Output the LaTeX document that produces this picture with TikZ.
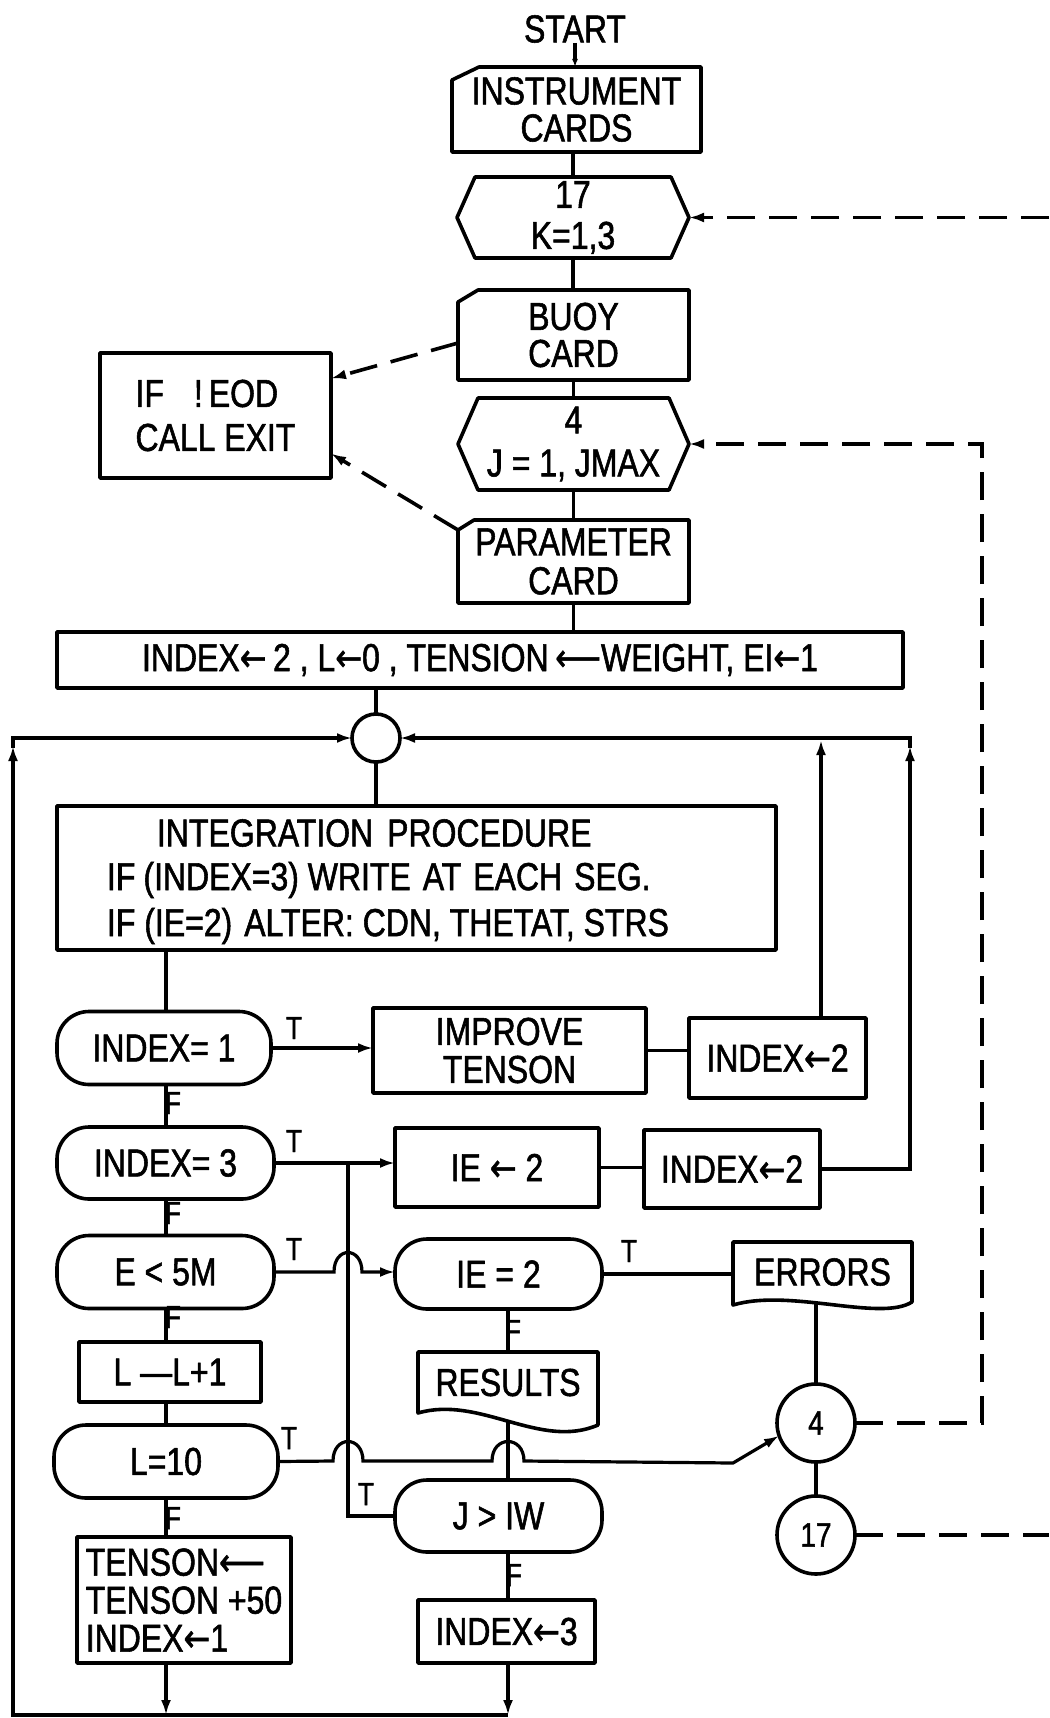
\documentclass[tikz,border=0pt]{standalone}
\usepackage{fontspec}
\setmainfont{Liberation Sans}[FakeStretch=0.82,FakeBold=1.4]
\newfontfamily\symf{DejaVu Sans}[FakeStretch=0.82,FakeBold=1.2]
\usetikzlibrary{arrows.meta}
\newcommand\LA{{\symf\char"2190}}
\newcommand\LLA{{\symf\char"27F5}}
\newcommand\fsz[1]{\fontsize{39}{#1}\selectfont}
\begin{document}
\begin{tikzpicture}[x=1pt,y=-1pt,
 every node/.style={inner sep=0pt, outer sep=0pt, font=\fsz{40}},
 shp/.style={line width=3.6pt, line join=round},
 rbox/.style={draw, shp},
 pill/.style={draw, shp, rounded corners=32pt},
 con/.style={line width=3.2pt},
 arr/.style={con, -{Latex[length=15pt,width=10pt]}},
 dsh/.style={line width=3.6pt, dash pattern=on 28pt off 14pt},
 darr/.style={dsh, -{Latex[length=15pt,width=10pt]}},
 lbl/.style={font=\fontsize{32}{32}\selectfont},
 cnum/.style={circle, draw, shp, minimum size=78pt, font=\fontsize{34}{34}\selectfont}]
\useasboundingbox (0,0) rectangle (1049,1718);
\fill[white] (0,0) rectangle (1049,1718);

% ---------- top column ----------
\node (start) at (575,29) {START};
\node[minimum width=249pt, minimum height=85pt, align=center, font=\fsz{37}] (instr) at (576.5,109.5) {INSTRUMENT\\CARDS};
\draw[shp] ([yshift=-13pt]instr.north west) -- ([xshift=27pt]instr.north west) -- (instr.north east) -- (instr.south east) -- (instr.south west) -- cycle;

\node[minimum width=232pt, minimum height=81pt, align=center, font=\fsz{41}] (hexK) at (573,217.5) {17\\K=1,3};
\draw[shp] (hexK.west) -- ([xshift=18pt]hexK.north west) -- ([xshift=-18pt]hexK.north east) -- (hexK.east) -- ([xshift=-18pt]hexK.south east) -- ([xshift=18pt]hexK.south west) -- cycle;

\node[minimum width=231pt, minimum height=90pt, align=center, font=\fsz{37}] (buoy) at (573.5,335) {BUOY\\CARD};
\draw[shp] ([yshift=-12pt]buoy.north west) -- ([xshift=20pt]buoy.north west) -- (buoy.north east) -- (buoy.south east) -- (buoy.south west) -- cycle;

\node[minimum width=231pt, minimum height=92pt, align=center, font=\fsz{43}] (hexJ) at (573.5,444) {4\\J = 1, JMAX};
\draw[shp] (hexJ.west) -- ([xshift=20pt]hexJ.north west) -- ([xshift=-20pt]hexJ.north east) -- (hexJ.east) -- ([xshift=-20pt]hexJ.south east) -- ([xshift=20pt]hexJ.south west) -- cycle;

\node[minimum width=231pt, minimum height=83pt, align=center, font=\fsz{39}] (param) at (573.5,561.5) {PARAMETER\\CARD};
\draw[shp] ([yshift=-10pt]param.north west) -- ([xshift=16pt]param.north west) -- (param.north east) -- (param.south east) -- (param.south west) -- cycle;

\node[rbox, minimum width=231pt, minimum height=125pt, align=left, font=\fsz{44}] (ifbox) at (215.5,415.5) {IF\hspace{30pt}!\hspace{6pt}EOD\\CALL EXIT};

\node[rbox, minimum width=846pt, minimum height=56pt] (init) at (480,660) {INDEX\LA\,2 , L\LA0 , TENSION\,\LLA WEIGHT, EI\LA1};
\node[circle, draw, shp, minimum size=48pt] (circ) at (376,738) {};

\node[rbox, minimum width=719pt, minimum height=144pt] (integ) at (416.5,878) {};
\node[anchor=west] (intega) at (157,833) {INTEGRATION\hspace{14pt}PROCEDURE};
\node[anchor=west] (integb) at (107,880) {IF\hspace{8pt}(INDEX=3) WRITE\hspace{12pt}AT\hspace{12pt}EACH\hspace{12pt}SEG.};
\node[anchor=west] (integc) at (107,926) {IF (IE=2)\hspace{12pt}ALTER: CDN, THETAT, STRS};

% ---------- decision chain ----------
\node[pill, minimum width=214pt, minimum height=73pt] (idx1) at (164,1048) {INDEX= 1};
\node[rbox, minimum width=273pt, minimum height=85pt, align=center, font=\fsz{38}] (improve) at (509.5,1050.5) {IMPROVE\\TENSON};
\node[rbox, minimum width=177pt, minimum height=80pt] (idx2a) at (777.5,1058) {INDEX\LA2};

\node[pill, minimum width=217pt, minimum height=72pt] (idx3) at (165.5,1163) {INDEX= 3};
\node[rbox, minimum width=204pt, minimum height=79pt] (ie2a) at (497,1167.5) {IE \LA\ 2};
\node[rbox, minimum width=176pt, minimum height=78pt] (idx2b) at (732,1169) {INDEX\LA2};

\node[pill, minimum width=217pt, minimum height=73pt] (e5m) at (165.5,1272) {E < 5M};
\node[pill, minimum width=207pt, minimum height=70pt] (ie2b) at (498.5,1274) {IE = 2};
\node[minimum width=179pt, minimum height=60pt] (errors) at (822.5,1272) {ERRORS};
\draw[shp] ([yshift=-3pt]errors.south west) -- (errors.north west) -- (errors.north east) -- (errors.south east) .. controls (880,1322) and (790,1288) .. ([yshift=-3pt]errors.south west) -- cycle;

\node[rbox, minimum width=182pt, minimum height=60pt] (lplus) at (170,1372) {L —L+1};
\node[minimum width=180pt, minimum height=61pt] (results) at (508,1382.5) {RESULTS};
\draw[shp] (results.south west) -- (results.north west) -- (results.north east) -- ([yshift=-12pt]results.south east) .. controls (540,1450) and (480,1395) .. (results.south west) -- cycle;

\node[pill, minimum width=224pt, minimum height=73pt] (l10) at (166,1461.5) {L=10};
\node[cnum] (c4) at (816,1423) {4};
\node[cnum] (c17) at (816,1535) {17};
\node[pill, minimum width=207pt, minimum height=72pt] (jiw) at (498.5,1516) {J > IW};
\node[rbox, minimum width=214pt, minimum height=126pt, align=left, font=\fsz{38}] (tenson) at (184,1600) {TENSON\LLA\\TENSON +50\\INDEX\LA1};
\node[rbox, minimum width=177pt, minimum height=63pt] (idx3b) at (506.5,1631.5) {INDEX\LA3};

% ---------- T / F labels ----------
\node[lbl] (t1) at (294,1028) {T};
\node[lbl] (f1) at (173,1103) {F};
\node[lbl] (t2) at (294,1141) {T};
\node[lbl] (f2) at (173,1213) {F};
\node[lbl] (t3) at (294,1249) {T};
\node[lbl] (f3) at (173,1317) {F};
\node[lbl] (t4) at (629,1251) {T};
\node[lbl] (f4) at (513,1331) {F};
\node[lbl] (t5) at (289,1438) {T};
\node[lbl] (f5) at (173,1518) {F};
\node[lbl] (t6) at (366,1494) {T};
\node[lbl] (f6) at (514,1575) {F};

% ---------- coordinates ----------
\coordinate (lc) at (166,0);
\coordinate (xm) at (508,0);
\coordinate (jx) at (348,0);
\coordinate (xa) at (821,0);
\coordinate (xat) at (821,740);
\coordinate (rc) at (910,738);
\coordinate (bl) at (13,1715);
\coordinate (br) at (508,1715);
\coordinate (tl) at (13,738);
\coordinate (rk) at (1049,217.5);
\coordinate (dv) at (982,0);

% ---------- solid connectors ----------
\draw[con, -{Latex[length=8pt,width=6pt]}] (start.south) -- (start.south |- instr.north);
\draw[con] (hexK.north |- instr.south) -- (hexK.north);
\draw[con] (hexK.south) -- (hexK.south |- buoy.north);
\draw[con] (hexJ.north |- buoy.south) -- (hexJ.north);
\draw[con] (hexJ.south) -- (hexJ.south |- param.north);
\draw[con] (param.south) -- (param.south |- init.north);
\draw[con] (circ.north |- init.south) -- (circ.north);
\draw[con] (circ.south) -- (circ.south |- integ.north);

\draw[con] (lc |- integ.south) -- (lc |- idx1.north);
\draw[con] (lc |- idx1.south) -- (lc |- idx3.north);
\draw[con] (lc |- idx3.south) -- (lc |- e5m.north);
\draw[con] (lc |- e5m.south) -- (lc |- lplus.north);
\draw[con] (lc |- lplus.south) -- (lc |- l10.north);
\draw[con] (lc |- l10.south) -- (lc |- tenson.north);
\draw[arr] (lc |- tenson.south) -- (lc |- bl);
\draw[arr] (idx3b.south -| xm) -- (br);
\draw[arr] (br) -- (bl) -- (13,746);
\draw[arr] (13,748) -- (tl) -- (circ.west);

\draw[arr] (idx1.east) -- (idx1.east -| improve.west);
\draw[con] (improve.east) -- (improve.east -| idx2a.west);
\draw[arr] (xa |- idx2a.north) -- (xat);
\draw[arr] (idx2b.east) -- (idx2b.east -| rc) -- (910,746);
\draw[arr] (910,748) -- (rc) -- (circ.east);

\draw[arr] (idx3.east) -- (idx3.east -| ie2a.west);
\draw[con] (jx |- idx3.east) -- (jx |- jiw.west) -- (jiw.west);
\draw[con] (ie2a.east) -- (ie2a.east -| idx2b.west);

\draw[arr] (e5m.east) -- (334,1272) .. controls (334,1246) and (362,1246) .. (362,1272) -- (e5m.east -| ie2b.west);
\draw[con] (ie2b.east) -- (ie2b.east -| errors.west);
\draw[con] (xm |- ie2b.south) -- (xm |- results.north);
\draw[con] (xm |- jiw.north) -- ++(0,-59);
\draw[con] (xm |- jiw.south) -- (xm |- idx3b.north);

\draw[arr] (l10.east) -- (333,1461) .. controls (333,1435) and (363,1435) .. (363,1461) -- (492,1461) .. controls (492,1435) and (524,1435) .. (524,1461) -- (733,1463) -- (c4.199);
\draw[con] (c4.south) -- (c17.north);
\draw[con] (c4.north) -- ++(0,-80);

% ---------- dashed connectors ----------
\draw[darr] (rk) -- (hexK.east);
\draw[dsh] (c17.east) -- (c17.east -| rk);
\draw[darr] (c4.east) -- (c4.east -| dv) -- (dv |- hexJ.east) -- (hexJ.east);
\draw[darr] ([yshift=-8pt]buoy.west) -- ([yshift=37pt]ifbox.east);
\draw[darr] ([yshift=-10pt]param.north west) -- ([yshift=-38pt]ifbox.east);
\end{tikzpicture}
\end{document}
